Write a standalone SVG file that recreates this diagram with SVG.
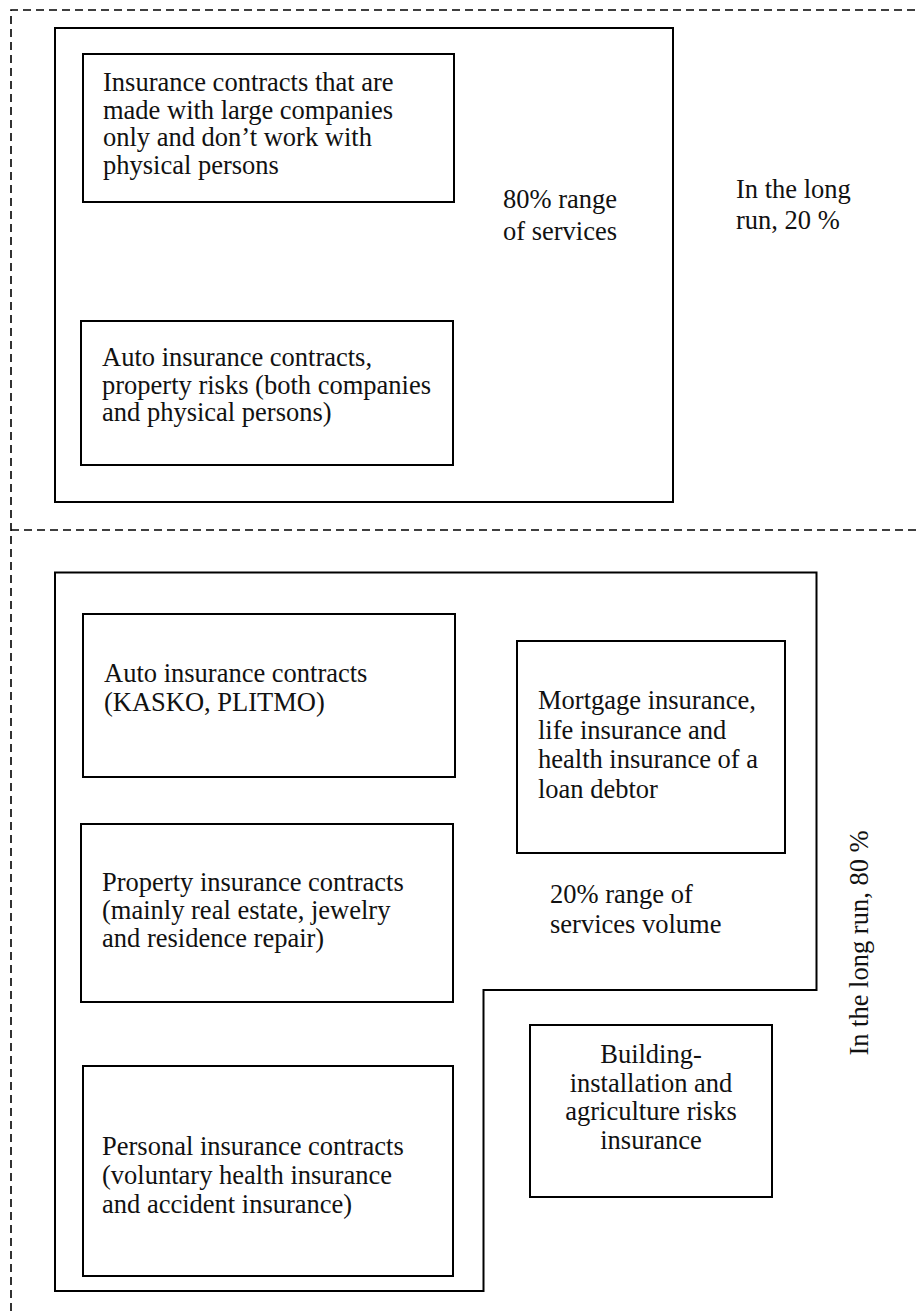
<svg xmlns="http://www.w3.org/2000/svg" width="918" height="1311" viewBox="0 0 918 1311">
<style>
.box{fill:none;stroke:#000;stroke-width:2}
.dash{fill:none;stroke:#000;stroke-width:1.6;stroke-dasharray:8 5}
text{font-family:"Liberation Serif","Times New Roman",serif;font-size:26.5px;fill:#111}
</style>
<rect width="918" height="1311" fill="#fff"/>
<g id="frames">
<path class="dash" d="M11,1311 V10 H918"/>
<path class="dash" d="M11,530 H918"/>
</g>
<g id="top-group">
<rect class="box" x="55" y="28" width="618" height="474"/>
<text x="503" y="208">80% range</text>
<text x="503" y="240">of services</text>
</g>
<g id="long-run-20"><text x="736" y="198">In the long</text><text x="736" y="229">run, 20 %</text></g>
<g id="n-large">
<rect class="box" x="83" y="54" width="371" height="148"/>
<text x="103" y="91">Insurance contracts that are</text>
<text x="103" y="118.5">made with large companies</text>
<text x="103" y="146">only and don’t work with</text>
<text x="103" y="173.5">physical persons</text>
</g>
<g id="n-auto-prop">
<rect class="box" x="81" y="321" width="372" height="144"/>
<text x="102" y="366">Auto insurance contracts,</text>
<text x="102" y="393.5">property risks (both companies</text>
<text x="102" y="421">and physical persons)</text>
</g>
<g id="bottom-group">
<path class="box" d="M55,572.5 H816.5 V990 H483.5 V1291 H55 Z"/>
<text x="550" y="903">20% range of</text>
<text x="550" y="933">services volume</text>
</g>
<g id="n-kasko">
<rect class="box" x="83" y="614" width="372" height="163"/>
<text x="104" y="682">Auto insurance contracts</text>
<text x="104" y="711">(KASKO, PLITMO)</text>
</g>
<g id="n-mortgage">
<rect class="box" x="517" y="641" width="268" height="212"/>
<text x="538" y="709">Mortgage insurance,</text>
<text x="538" y="738.5">life insurance and</text>
<text x="538" y="768">health insurance of a</text>
<text x="538" y="797.5">loan debtor</text>
</g>
<g id="n-property">
<rect class="box" x="81" y="824" width="372" height="178"/>
<text x="102" y="891">Property insurance contracts</text>
<text x="102" y="919">(mainly real estate, jewelry</text>
<text x="102" y="947">and residence repair)</text>
</g>
<g id="n-building">
<rect class="box" x="530" y="1025" width="242" height="172"/>
<text x="651" y="1063" text-anchor="middle">Building-</text>
<text x="651" y="1091.5" text-anchor="middle">installation and</text>
<text x="651" y="1120" text-anchor="middle">agriculture risks</text>
<text x="651" y="1148.5" text-anchor="middle">insurance</text>
</g>
<g id="n-personal">
<rect class="box" x="83" y="1066" width="370" height="210"/>
<text x="102" y="1155">Personal insurance contracts</text>
<text x="102" y="1184">(voluntary health insurance</text>
<text x="102" y="1213">and accident insurance)</text>
</g>
<g id="long-run-80"><text transform="translate(868,943) rotate(-90)" text-anchor="middle">In the long run, 80 %</text></g>
</svg>
